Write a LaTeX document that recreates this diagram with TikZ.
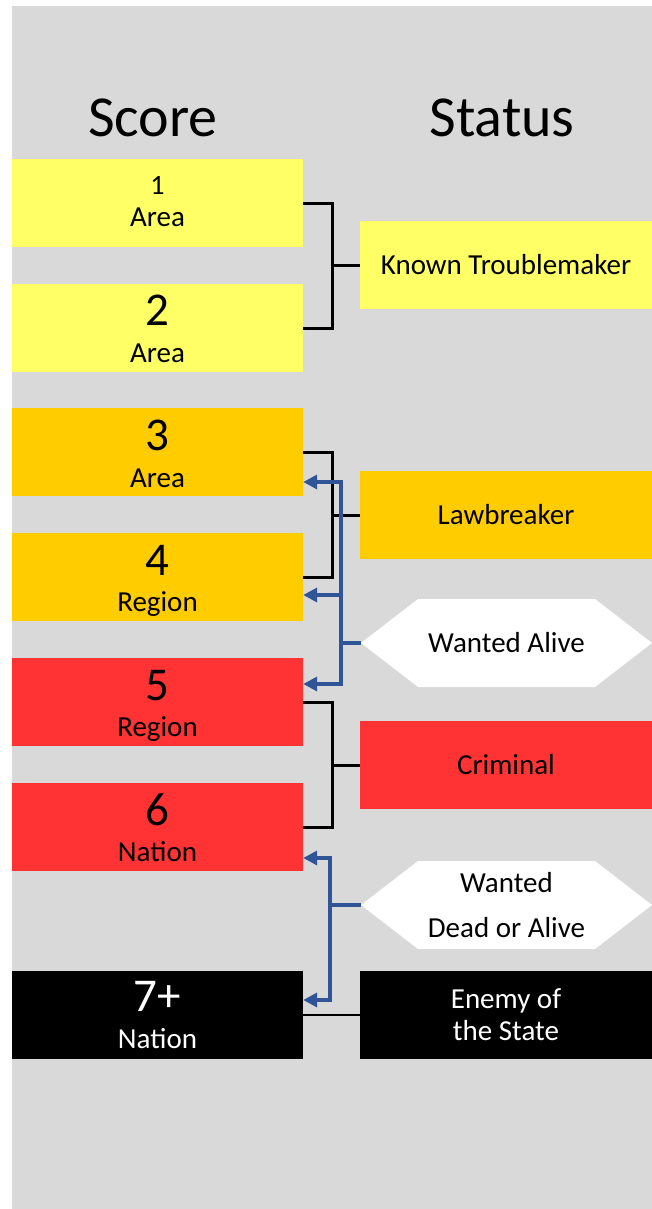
\documentclass[tikz,border=0pt]{standalone}
\usepackage{fontspec}
\setmainfont{Carlito}
\usetikzlibrary{arrows.meta}

\definecolor{bggray}{HTML}{D9D9D9}
\definecolor{scoreyellow}{HTML}{FFFF66}
\definecolor{scoreorange}{HTML}{FFCC00}
\definecolor{scorered}{HTML}{FF3333}
\definecolor{arrowblue}{HTML}{2F5597}

\tikzset{
    scorebox/.style={minimum width=291pt, minimum height=88pt, inner sep=0pt},
    statusbox/.style={minimum width=292pt, minimum height=88pt, inner sep=0pt,
        font=\fontsize{29}{32}\selectfont},
    hexbox/.style={minimum width=291pt, minimum height=88pt, inner sep=0pt,
        font=\fontsize{29}{45}\selectfont,
        path picture={\fill[white] (path picture bounding box.west)
            -- ([xshift=57pt]path picture bounding box.north west)
            -- ([xshift=-57pt]path picture bounding box.north east)
            -- (path picture bounding box.east)
            -- ([xshift=-57pt]path picture bounding box.south east)
            -- ([xshift=57pt]path picture bounding box.south west) -- cycle;}},
    headtext/.style={anchor=base, inner sep=0pt, font=\fontsize{58}{62}\selectfont},
    boxtext/.style={anchor=base, inner sep=0pt},
    bracket/.style={draw=black, line width=3pt},
    wantedline/.style={draw=arrowblue, line width=3.5pt},
    wantedtip/.style={-{Triangle[length=14pt, width=14pt]}}
}

\begin{document}
\begin{tikzpicture}[x=1pt, y=-1pt]

    \useasboundingbox (0,0) rectangle (652,1209);
    \fill[bggray] (12,6) rectangle (652,1209);

    \node[headtext] (scorehd) at (153,137) {Score};
    \node[headtext] (statushd) at (502,137) {Status};

    \foreach \i/\t/\c/\tc/\num/\ns/\nb/\word/\wb in {
        1/159/scoreyellow/black/1/28/36/Area/68,
        2/284/scoreyellow/black/2/47/42/Area/79,
        3/408/scoreorange/black/3/47/43/Area/80,
        4/533/scoreorange/black/4/47/43/Region/79,
        5/658/scorered/black/5/47/43/Region/79,
        6/783/scorered/black/6/47/43/Nation/79,
        7/971/black/white/7+/47/41/Nation/78}
    {   \node[scorebox, fill=\c] (s\i) at (157.5, \t+44) {};
        \node[boxtext, text=\tc, font=\fontsize{\ns}{\ns}\selectfont] (n\i) at ([yshift=-\nb]s\i.north) {\num};
        \node[boxtext, text=\tc, font=\fontsize{29}{29}\selectfont] (w\i) at ([yshift=-\wb]s\i.north) {\word};}

    \node[statusbox, fill=scoreyellow] (known) at (506,265) {Known Troublemaker};
    \node[statusbox, fill=scoreorange] (lawbr) at (506,515) {Lawbreaker};
    \node[hexbox] (alive) at (506.5,643) {Wanted Alive};
    \node[statusbox, fill=scorered] (crim) at (506,765) {Criminal};
    \node[hexbox, align=center] (dead) at (506.5,905) {Wanted\\Dead or Alive};
    \node[statusbox, fill=black, text=white, align=center] (enemy) at (506,1015) {Enemy of\\the State};

    \draw[bracket] (s1.east) -- ++(29,0) |- (s2.east);
    \draw[bracket] (known.west) -- ++(-28,0);
    \draw[bracket] (s3.east) -- ++(29,0) |- (s4.east);
    \draw[bracket] (lawbr.west) -- ++(-28,0);
    \draw[bracket] (s5.east) -- ++(29,0) |- (s6.east);
    \draw[bracket] (crim.west) -- ++(-28,0);
    \draw[line width=1.2pt] (s7.east) -- (enemy.west);

    \draw[wantedline] (alive.west) -- ++(-20,0) coordinate (aliveknee);
    \draw[wantedline, wantedtip] (aliveknee) |- ([yshift=-30]s3.east);
    \draw[wantedline, wantedtip] (aliveknee) |- ([yshift=-18]s4.east);
    \draw[wantedline, wantedtip] (aliveknee) |- ([yshift=18]s5.east);

    \draw[wantedline] (dead.west) -- ++(-31,0) coordinate (deadknee);
    \draw[wantedline, wantedtip] (deadknee) |- ([yshift=-31]s6.east);
    \draw[wantedline, wantedtip] (deadknee) |- ([yshift=15]s7.east);

\end{tikzpicture}
\end{document}
